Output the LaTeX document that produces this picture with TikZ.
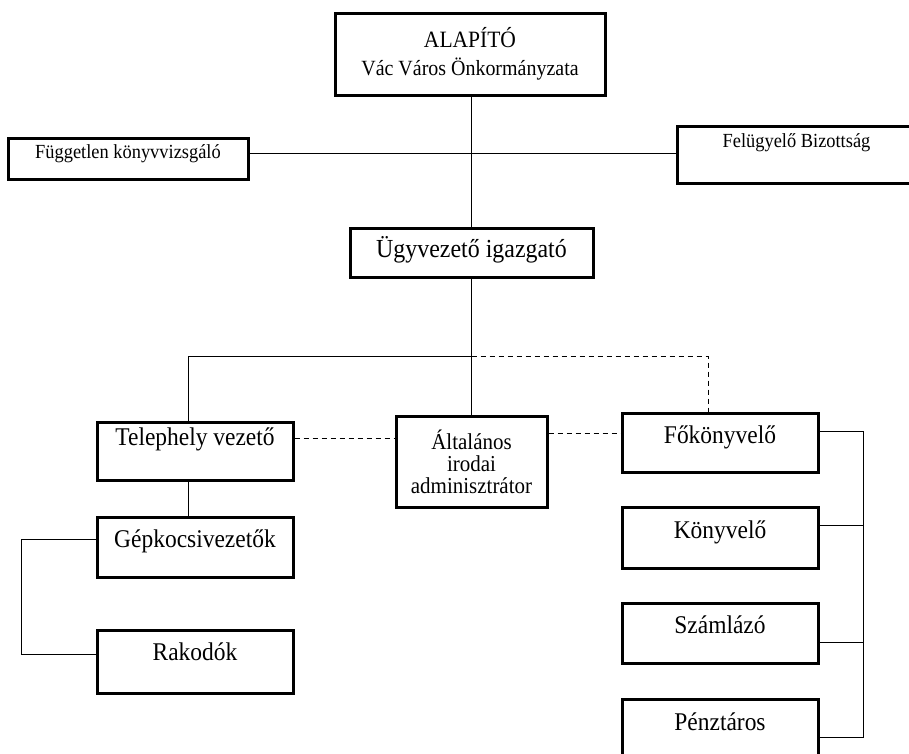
\documentclass[tikz,border=0pt]{standalone}
\usepackage{fontspec}
\setmainfont[FakeStretch=0.92]{Liberation Serif}
\begin{document}
\begin{tikzpicture}[x=1pt,y=-1pt,
  box/.style={draw, line width=3pt, inner sep=0pt, align=center, font=\fontsize{25.5}{28}\selectfont},
  link/.style={line width=0.9pt},
  dlink/.style={line width=0.9pt, dash pattern=on 5pt off 4pt}]
\useasboundingbox (0,0) rectangle (909,753);
\clip (0,0) rectangle (909,753);
% boxes
\node[box, minimum width=270, minimum height=82, font=\fontsize{21.7}{28}\selectfont] (alap) at (470,54)
  {{\fontsize{23.4}{28}\selectfont ALAPÍTÓ}\\Vác Város Önkormányzata};
\node[box, minimum width=240, text height=20, text depth=21, font=\fontsize{20}{22}\selectfont] (fugg) at (128,158.5) {Független könyvvizsgáló};
\node[box, minimum width=239, text height=21, text depth=36, font=\fontsize{20}{22}\selectfont] (felu) at (796.5,154.5) {Felügyelő Bizottság};
\node[box, minimum width=243, text height=29, text depth=20, font=\fontsize{26}{28}\selectfont] (ugy) at (471.5,252.5) {Ügyvezető igazgató};
\node[box, minimum width=196, text height=23, text depth=35] (tel) at (195,451) {Telephely vezető};
\node[box, minimum width=196, text height=30, text depth=30] (gep) at (195,547) {Gépkocsivezetők};
\node[box, minimum width=196, text height=30, text depth=33] (rak) at (195,661.5) {Rakodók};
\node[box, minimum width=151, minimum height=91, font=\fontsize{22.8}{22}\selectfont] (alt) at (471.5,461.5) {Általános\\irodai\\adminisztrátor};
\node[box, minimum width=196, text height=30, text depth=29] (fok) at (720,442.5) {Főkönyvelő};
\node[box, minimum width=196, text height=31, text depth=30] (kony) at (720,537.5) {Könyvelő};
\node[box, minimum width=196, text height=30, text depth=30] (szam) at (720,633) {Számlázó};
\node[box, minimum width=196, text height=31, text depth=30] (penz) at (720,729.5) {Pénztáros};
% helper coordinates
\coordinate (hz) at (472,153);
\coordinate (j) at (471.5,356);
\coordinate (dl) at (0,438);
\coordinate (dr) at (0,433);
% connectors
\draw[link] (alap.south -| ugy.north) -- (ugy.north);
\draw[link] (hz -| fugg.east) -- (hz -| felu.west);
\draw[link] (ugy.south) -- (j) -- (alt.north);
\draw[link] (j) -| ([xshift=-7pt]tel.north);
\draw[dlink] (j) -| ([xshift=-12pt]fok.north);
\draw[link] ([xshift=-7pt]tel.south) -- ([xshift=-7pt]gep.north);
\draw[dlink] (dl -| tel.east) -- (dl -| alt.west);
\draw[dlink] (dr -| alt.east) -- (dr -| fok.west);
\draw[link] ([yshift=8pt]gep.west) -- ++(-74,0) |- ([yshift=7.5pt]rak.west);
\draw[link] ([yshift=11.5pt]fok.east) -- ++(44,0) |- ([yshift=-7.5pt]penz.east);
\draw[link] ([yshift=12.5pt]kony.east) -- ++(44,0);
\draw[link] ([yshift=-9pt]szam.east) -- ++(44,0);
\end{tikzpicture}
\end{document}
